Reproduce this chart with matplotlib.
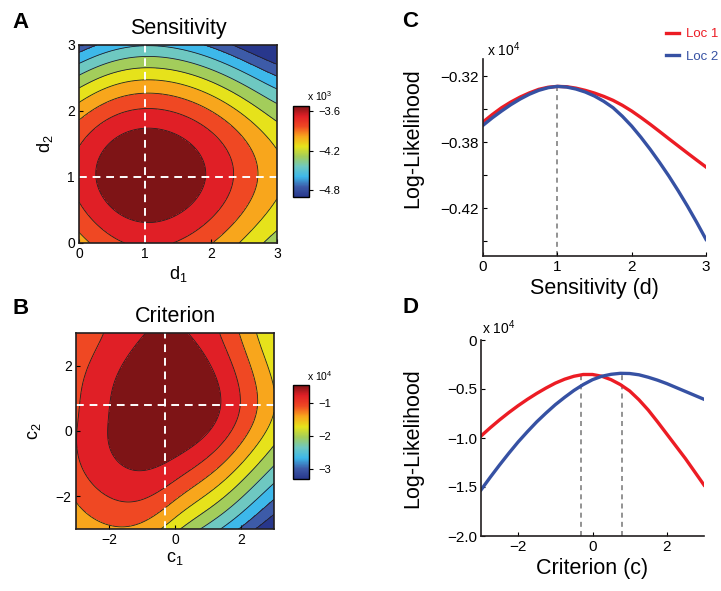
import numpy as np
import matplotlib
matplotlib.use("Agg")
import matplotlib.pyplot as plt
from matplotlib.colors import LinearSegmentedColormap, Normalize
from matplotlib.cm import ScalarMappable

plt.rcParams["font.family"] = ["Liberation Sans", "DejaVu Sans"]
plt.rcParams["mathtext.default"] = "regular"

# Panel C: log-likelihood (x 10^4) against sensitivity d
sens = [0, 0.125, 0.25, 0.375, 0.5, 0.625, 0.75, 0.875, 1.0, 1.125, 1.25,
        1.375, 1.5, 1.625, 1.75, 1.875, 2.0, 2.125, 2.25, 2.375, 2.5, 2.625,
        2.75, 2.875, 3.0]
sens_loc1 = [-0.3618, -0.3550, -0.3488, -0.3436, -0.3391, -0.3353, -0.3321,
             -0.3302, -0.3294, -0.3297, -0.3310, -0.3330, -0.3355, -0.3385,
             -0.3421, -0.3466, -0.3518, -0.3577, -0.3639, -0.3704, -0.3770,
             -0.3835, -0.3900, -0.3964, -0.4027]
sens_loc2 = [-0.3648, -0.3580, -0.3518, -0.3460, -0.3409, -0.3365, -0.3330,
             -0.3306, -0.3294, -0.3300, -0.3318, -0.3345, -0.3382, -0.3430,
             -0.3488, -0.3566, -0.3655, -0.3757, -0.3867, -0.3985, -0.4109,
             -0.4242, -0.4382, -0.4530, -0.4685]

# Panel D: log-likelihood (x 10^4) against criterion c
crit = [-3, -2.75, -2.5, -2.25, -2, -1.75, -1.5, -1.25, -1, -0.75, -0.5,
        -0.25, 0, 0.25, 0.5, 0.75, 1, 1.25, 1.5, 1.75, 2, 2.25, 2.5, 2.75, 3]
crit_loc1 = [-0.98, -0.895, -0.815, -0.74, -0.67, -0.605, -0.545, -0.49,
             -0.44, -0.40, -0.37, -0.352, -0.352, -0.37, -0.405, -0.455,
             -0.52, -0.61, -0.715, -0.835, -0.96, -1.085, -1.21, -1.345, -1.48]
crit_loc2 = [-1.53, -1.40, -1.275, -1.155, -1.04, -0.935, -0.835, -0.745,
             -0.66, -0.585, -0.515, -0.455, -0.405, -0.37, -0.35, -0.34,
             -0.342, -0.355, -0.38, -0.41, -0.445, -0.485, -0.525, -0.565,
             -0.605]

best_d = 1.0
best_c1, best_c2 = -0.3, 0.8

sens_ticks = [-0.32, -0.35, -0.38, -0.41, -0.44, -0.47]
sens_ticklabels = ["\u22120.32", "", "\u22120.38", "", "\u22120.42", ""]
crit_ticks = [0, -0.5, -1.0, -1.5, -2.0]
crit_ticklabels = ["0", "\u22120.5", "\u22121.0", "\u22121.5", "\u22122.0"]

# contour band colours, best (dark red) to worst (dark blue)
bands = ["#7e1416", "#e01f26", "#ef4823", "#f8a61c", "#e6e21b",
         "#a3cd5b", "#6ec8c1", "#3db8ea", "#3d5ba8", "#28378c"]
red, blue = "#ec1c24", "#3651a3"

W, H = 721, 591
fig = plt.figure(figsize=(W / 100, H / 100), dpi=100)


def add_ax(l, t, r, b):
    return fig.add_axes([l / W, 1 - b / H, (r - l) / W, (b - t) / H])


def drop(x, y, grid):
    p = np.polyfit(x, y, 6)
    v = np.polyval(p, grid)
    return max(y) - v


def style(ax, box=True):
    for s in ax.spines.values():
        s.set_linewidth(1.2)
        s.set_color("#231f20")
    if not box:
        ax.spines["top"].set_visible(False)
        ax.spines["right"].set_visible(False)
    ax.tick_params(direction="in", length=3, width=0.8, pad=3)


jet = LinearSegmentedColormap.from_list("jetlike", bands[::-1])

# ---- A: sensitivity surface
ax = add_ax(79, 45, 277, 243)
g = np.linspace(0, 3, 241)
qa = drop(sens, sens_loc2, g)[:, None] + drop(sens, sens_loc1, g)[None, :]
step = 0.0197
lev = [-1] + [step * k for k in range(1, 10)] + [10]
ax.contourf(g, g, qa, levels=lev, colors=bands)
ax.contour(g, g, qa, levels=lev[1:-1], colors="#231f20", linewidths=0.6)
ax.axvline(best_d, color="white", ls=(0, (4, 3)), lw=1.4)
ax.axhline(best_d, color="white", ls=(0, (4, 3)), lw=1.4)
ax.set_xticks([0, 1, 2, 3])
ax.set_yticks([0, 1, 2, 3])
ax.tick_params(labelsize=10)
style(ax)
ax.set_title("Sensitivity", fontsize=15.5, pad=8)
ax.set_xlabel("d$_1$", fontsize=13, labelpad=2)
ax.set_ylabel("d$_2$", fontsize=13)
ax.yaxis.set_label_coords(-0.12, 0.5)

cax = add_ax(293, 106, 309, 197)
cb = fig.colorbar(ScalarMappable(Normalize(-4.906, -3.524), jet), cax=cax)
cb.set_ticks([-3.6, -4.2, -4.8])
cb.set_ticklabels(["\u22123.6", "\u22124.2", "\u22124.8"])
cb.ax.tick_params(labelsize=8, length=3, width=0.8, direction="out")
cb.outline.set_linewidth(1.0)
fig.text(307 / W, 1 - 101 / H, "x 10$^3$", fontsize=7.5)

# ---- B: criterion surface (the two slices plus a c1-c2 trade-off term)
ax = add_ax(76, 333, 274, 529)
g = np.linspace(-3, 3, 241)
u = (g - best_c1)[None, :]
v = (g - best_c2)[:, None]
fu = np.where(u < 0, 1.5 * np.tanh(u / 1.5), np.tanh(u))
kv = 0.058 - 0.072 * np.tanh(v + 0.4)
qb = drop(crit, crit_loc2, g)[:, None] + drop(crit, crit_loc1, g)[None, :]
qb = qb - kv * fu * v
lev = [-10] + [0.315 + 0.275 * k for k in range(9)] + [100]
ax.contourf(g, g, qb, levels=lev, colors=bands)
ax.contour(g, g, qb, levels=lev[1:-1], colors="#231f20", linewidths=0.6)
ax.axvline(best_c1, color="white", ls=(0, (4, 3)), lw=1.4)
ax.axhline(best_c2, color="white", ls=(0, (4, 3)), lw=1.4)
ax.set_xticks([-2, 0, 2])
ax.set_yticks([-2, 0, 2])
ax.tick_params(labelsize=10)
style(ax)
ax.set_title("Criterion", fontsize=15.5, pad=8)
ax.set_xlabel("c$_1$", fontsize=13, labelpad=2)
ax.set_ylabel("c$_2$", fontsize=13)
ax.yaxis.set_label_coords(-0.167, 0.5)

cax = add_ax(293, 385, 309, 479)
cb = fig.colorbar(ScalarMappable(Normalize(-3.3, -0.45), jet), cax=cax)
cb.set_ticks([-1, -2, -3])
cb.set_ticklabels(["\u22121", "\u22122", "\u22123"])
cb.ax.tick_params(labelsize=8, length=3, width=0.8, direction="out")
cb.outline.set_linewidth(1.0)
fig.text(307 / W, 1 - 381 / H, "x 10$^4$", fontsize=7.5)

# ---- C: sensitivity curves
ax = add_ax(483, 59, 706, 256)
ax.plot(sens, sens_loc1, color=red, lw=2.4, label="Loc 1")
ax.plot(sens, sens_loc2, color=blue, lw=2.4, label="Loc 2")
ax.plot([best_d, best_d], [-0.4836, max(sens_loc1)], color="#808080",
        ls=(0, (3, 2.5)), lw=1.2, zorder=0)
ax.set_xlim(0, 3)
ax.set_ylim(-0.4836, -0.3045)
ax.set_xticks([0, 1, 2, 3])
ax.set_yticks(sens_ticks)
ax.set_yticklabels(sens_ticklabels)
ax.tick_params(labelsize=11)
style(ax, box=False)
ax.set_xlabel("Sensitivity (d)", fontsize=15.5, labelpad=3)
ax.set_ylabel("Log-Likelihood", fontsize=15.5)
ax.yaxis.set_label_coords(-0.27, 0.6)
fig.text(487 / W, 1 - 56 / H, "x 10$^4$", fontsize=10)
ax.legend(loc="upper right", bbox_to_anchor=(718 / W, 1 - 28 / H),
          bbox_transform=fig.transFigure, frameon=False, fontsize=9.5,
          handlelength=1.0, handletextpad=0.5, labelspacing=0.8,
          labelcolor="linecolor", borderpad=0, borderaxespad=0)

# ---- D: criterion curves
ax = add_ax(481, 340, 704, 536)
ax.plot(crit, crit_loc1, color=red, lw=2.4)
ax.plot(crit, crit_loc2, color=blue, lw=2.4)
ax.plot([best_c1, best_c1], [-2.0, max(crit_loc1)], color="#808080",
        ls=(0, (3, 2.5)), lw=1.2, zorder=0)
ax.plot([best_c2, best_c2], [-2.0, max(crit_loc2)], color="#808080",
        ls=(0, (3, 2.5)), lw=1.2, zorder=0)
ax.set_xlim(-3, 3)
ax.set_ylim(-2.0, 0)
ax.set_xticks([-2, 0, 2])
ax.set_yticks(crit_ticks)
ax.set_yticklabels(crit_ticklabels)
ax.tick_params(labelsize=11)
style(ax, box=False)
ax.set_xlabel("Criterion (c)", fontsize=15.5, labelpad=3)
ax.set_ylabel("Log-Likelihood", fontsize=15.5)
ax.yaxis.set_label_coords(-0.26, 0.5)
fig.text(482 / W, 1 - 334 / H, "x 10$^4$", fontsize=10)

# panel letters
for letter, x, y in [("A", 12, 28), ("B", 12, 314), ("C", 402, 27), ("D", 402, 313)]:
    fig.text(x / W, 1 - y / H, letter, fontsize=16, fontweight="bold")

fig.savefig("out.png", dpi=100)
